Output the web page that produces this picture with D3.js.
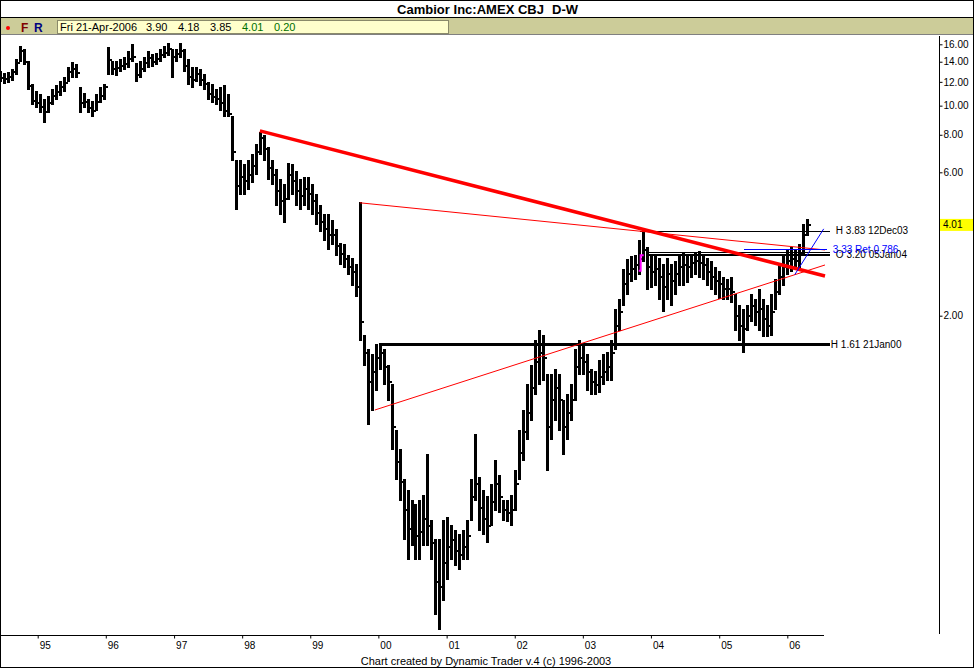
<!DOCTYPE html>
<html><head><meta charset="utf-8">
<script src="https://cdn.jsdelivr.net/npm/d3@7"></script>
<style>
html,body{margin:0;padding:0;background:#fff;overflow:hidden}
svg{display:block}
text{font-family:"Liberation Sans",Arial,sans-serif}
</style>
</head><body>
<svg id="c" width="974" height="668"></svg>
<script>
// ---------------- DATA ----------------
const titleText = "Cambior Inc:AMEX CBJ";
const periodText = "D-W";
const infoDate = "Fri 21-Apr-2006";
const infoValues = ["3.90", "4.18", "3.85", "4.01", "0.20"];
const footerText = "Chart created by Dynamic Trader v.4  (c) 1996-2003";

// price bars (one bar about every 3 weeks)
const startDate = "1994-06-13";
const barDays = 21.44;
const highs = [
12.95,12.75,12.85,13.15,14.19,15.68,15.32,13.98,11.72,11.11,
10.86,10.45,10.69,11.28,11.63,11.99,12.37,13.35,13.87,13.66,
11.46,10.94,10.45,10.29,10.86,11.46,11.72,15.56,13.98,13.98,
14.19,14.41,15.09,15.92,13.76,13.98,14.41,15.09,14.75,14.86,
15.32,15.68,16.04,15.32,15.32,16.16,15.32,14.19,13.35,13.35,
13.15,12.65,11.90,11.72,11.28,11.46,11.63,10.86,9.17,6.59,
6.59,6.35,6.59,6.86,7.40,8.17,7.98,7.23,6.59,6.11,
5.66,5.45,6.44,6.35,6.02,5.66,5.75,5.75,5.45,5.05,
4.67,4.33,4.33,4.16,3.86,3.49,3.44,3.18,3.11,2.95,
4.75,1.72,1.54,1.48,1.60,1.62,1.54,1.37,1.18,0.833,
0.715,0.568,0.526,0.487,0.469,0.487,0.506,0.688,0.418,0.359,
0.359,0.418,0.425,0.402,0.387,0.373,0.387,0.418,0.568,0.802,
0.581,0.526,0.500,0.547,0.662,0.590,0.487,0.487,0.506,0.613,
0.833,0.971,1.18,1.37,1.66,1.79,1.72,1.27,1.27,1.32,
1.27,1.048,1.09,1.18,1.54,1.66,1.60,1.48,1.32,1.30,
1.424,1.48,1.51,1.66,2.09,2.26,2.84,3.07,3.14,3.18,
3.57,3.86,3.36,3.18,3.18,3.11,2.95,3.11,2.95,3.02,
3.18,3.23,3.18,3.18,3.23,3.26,3.18,3.11,3.02,2.89,
2.80,2.67,2.63,2.67,2.35,2.17,2.09,2.17,2.35,2.26,
2.44,2.26,2.17,2.35,2.63,2.95,3.18,3.31,3.36,3.31,
3.44,4.01,4.18];
const lows = [
11.99,11.81,11.90,12.17,12.65,13.98,13.66,11.28,10.06,9.83,
9.52,8.82,9.52,10.06,10.45,10.78,11.11,11.99,12.37,12.37,
9.52,9.83,9.52,9.17,9.67,10.21,10.45,12.65,12.65,12.56,
12.95,13.15,13.35,13.98,11.99,12.37,12.95,13.35,13.45,13.66,
13.98,14.41,14.63,12.37,13.98,14.41,12.95,11.72,11.46,11.99,
11.63,11.28,10.45,10.21,10.06,9.67,9.17,9.17,6.59,4.50,
5.05,5.05,5.24,5.57,5.88,6.86,6.59,5.66,5.45,4.67,
4.33,4.10,4.86,5.05,4.67,4.50,4.67,4.50,4.33,4.01,
3.80,3.57,3.31,3.44,3.18,2.95,2.89,2.74,2.53,2.31,
1.66,1.37,0.866,0.971,1.13,1.32,1.18,1.048,0.715,0.568,
0.487,0.359,0.308,0.345,0.308,0.308,0.345,0.345,0.308,0.202,
0.180,0.226,0.264,0.308,0.296,0.285,0.308,0.308,0.418,0.487,
0.387,0.373,0.351,0.402,0.451,0.444,0.418,0.412,0.402,0.451,
0.568,0.662,0.772,0.899,1.09,1.18,1.22,0.613,0.772,0.899,
0.833,0.688,0.772,0.899,1.048,1.27,1.27,1.13,1.09,1.09,
1.11,1.18,1.22,1.22,1.54,1.79,2.17,2.35,2.59,2.63,
2.74,3.02,2.44,2.48,2.53,2.26,2.06,2.26,2.17,2.35,
2.53,2.53,2.57,2.67,2.74,2.67,2.63,2.53,2.44,2.35,
2.29,2.26,2.26,2.21,1.79,1.66,1.51,1.79,1.91,1.86,
1.79,1.70,1.70,1.72,2.09,2.35,2.53,2.74,2.80,2.84,
2.89,3.18,3.71];
const closes = [
12.4,12.3,12.5,12.9,13.9,15.2,14.0,11.6,10.4,10.2,
9.9,9.5,10.2,10.8,11.1,11.5,11.9,12.9,13.2,12.8,
10.2,10.3,9.8,9.6,10.3,10.8,11.5,14.2,13.2,13.3,
13.5,13.8,14.3,14.5,12.6,13.2,13.9,14.4,14.0,14.3,
14.7,15.0,15.4,14.5,14.8,15.2,13.6,12.5,12.2,12.7,
12.2,11.8,10.9,10.7,10.5,10.2,9.6,9.4,7.0,5.4,
5.8,5.6,5.9,6.3,7.0,7.8,7.2,6.2,5.9,5.2,
4.8,4.9,5.9,5.6,5.2,5.0,5.3,5.1,4.8,4.4,
4.1,3.9,3.7,3.7,3.4,3.2,3.1,2.9,2.8,2.5,
1.9,1.5,1.2,1.3,1.45,1.5,1.35,1.2,0.85,0.65,
0.56,0.45,0.39,0.40,0.37,0.38,0.42,0.40,0.35,0.26,
0.25,0.30,0.34,0.36,0.33,0.32,0.34,0.37,0.50,0.55,
0.46,0.42,0.40,0.48,0.55,0.50,0.45,0.44,0.45,0.55,
0.70,0.82,0.95,1.15,1.40,1.50,1.45,0.85,1.05,1.15,
1.05,0.85,0.95,1.05,1.35,1.45,1.40,1.30,1.20,1.18,
1.25,1.30,1.35,1.50,1.85,2.05,2.55,2.75,2.85,2.95,
3.10,3.30,2.90,2.80,2.85,2.70,2.50,2.75,2.60,2.75,
2.90,2.95,2.90,3.00,3.05,3.00,2.95,2.80,2.70,2.60,
2.55,2.45,2.45,2.40,2.00,1.85,1.80,2.00,2.15,2.05,
2.10,1.95,1.85,2.05,2.40,2.70,2.90,3.05,3.10,3.05,
3.20,3.70,4.01];

const yTickValues = [2, 6, 8, 10, 12, 14, 16];
const yearTicks = [1995,1996,1997,1998,1999,2000,2001,2002,2003,2004,2005,2006];
const lastPrice = 4.01;

// drawn trend lines (red)
const trendFrom  = ["1998-04-06", "1999-09-24", "1999-12-13"];
const trendTo    = ["2006-07-22", "2006-07-22", "2006-07-22"];
const trendP1    = [8.24, 4.75, 0.971];
const trendP2    = [2.71, 3.31, 2.95];
const trendWidth = [3.5, 1, 1];

// horizontal levels (black)
const levelPrice = [3.83, 3.26, 3.20, 1.61];
const levelFrom  = ["2003-11-05", "2003-12-09", "2003-12-09", "2000-01-10"];
const levelTo    = "2006-08-17";
const levelWidth = [1, 1, 2, 3];
const levelLabel = ["H 3.83 12Dec03", "", "O 3.20 05Jan04", "H 1.61 21Jan00"];

// retracement (blue)
const retPrice = 3.33, retFrom = "2005-05-13", retTo = "2006-08-04", retLabel = "3.33 Ret 0.786";
const blueDiagDates = ["2006-02-10", "2006-07-15"];
const blueDiagPrices = [2.74, 3.89];

// magenta marker
const markDate = "2003-11-07", markPrices = [3.18, 2.82];

// ---------------- CHART ----------------
const svg = d3.select("#c");
const W = 974, H = 668;
const pd = s => new Date(s + "T00:00:00Z");

const x = d3.scaleUtc()
  .domain([Date.UTC(1995,0,1), Date.UTC(2006,0,1)])
  .range([37.7, 787.3]);
const y = d3.scaleLog().domain([2, 16]).range([315.7, 44.3]);

// frame / title
svg.append("rect").attr("x",0.5).attr("y",0.5).attr("width",W-1).attr("height",H-1)
  .attr("fill","#fff").attr("stroke","#000");
svg.append("text").attr("x",397).attr("y",14).attr("font-size",13).attr("font-weight","bold")
  .attr("textLength",147).attr("lengthAdjust","spacing").text(titleText);
svg.append("text").attr("x",552).attr("y",14).attr("font-size",13).attr("font-weight","bold")
  .text(periodText);

// info bar
svg.append("line").attr("x1",0).attr("x2",W).attr("y1",17.5).attr("y2",17.5).attr("stroke","#000");
svg.append("rect").attr("x",1).attr("y",18).attr("width",W-2).attr("height",16).attr("fill","#cccc99");
svg.append("line").attr("x1",1).attr("x2",W-1).attr("y1",34.5).attr("y2",34.5).attr("stroke","#808080");
svg.append("rect").attr("x",57.5).attr("y",20.5).attr("width",391).attr("height",13)
  .attr("fill","#ffffcc").attr("stroke","#8a8a6a").attr("stroke-width",1);
svg.append("circle").attr("cx",8).attr("cy",28).attr("r",2).attr("fill","#ff0000");
svg.append("text").attr("x",21).attr("y",32).attr("font-size",12).attr("font-weight","bold")
  .attr("fill","#800000").text("F");
svg.append("text").attr("x",34).attr("y",32).attr("font-size",12).attr("font-weight","bold")
  .attr("fill","#000080").text("R");
svg.append("text").attr("x",60).attr("y",31).attr("font-size",11).text(infoDate);
const infoX = [146, 178, 210, 242, 274];
infoValues.forEach((v,i) => {
  svg.append("text").attr("x",infoX[i]).attr("y",31).attr("font-size",11)
    .attr("fill", i >= 3 ? "#006f00" : "#000").text(v);
});

// clip for plot
svg.append("clipPath").attr("id","plot").append("rect")
  .attr("x",1).attr("y",36).attr("width",937).attr("height",598);
const plot = svg.append("g").attr("clip-path","url(#plot)");

// bars
const t0 = pd(startDate).getTime();
const bars = highs.map((h,i) => ({
  date: new Date(t0 + i * barDays * 86400000),
  high: h, low: lows[i], close: closes[i]
}));
const gb = plot.append("g").attr("stroke","#000").attr("shape-rendering","crispEdges");
gb.selectAll("line.hl").data(bars).join("line").attr("class","hl")
  .attr("x1",d=>x(d.date)).attr("x2",d=>x(d.date))
  .attr("y1",d=>y(d.high)-0.5).attr("y2",d=>y(d.low)+0.5)
  .attr("stroke-width",3);
gb.selectAll("line.cl").data(bars).join("line").attr("class","cl")
  .attr("x1",d=>x(d.date)).attr("x2",d=>x(d.date)+3.5)
  .attr("y1",d=>y(d.close)).attr("y2",d=>y(d.close))
  .attr("stroke-width",2);

// levels
levelPrice.forEach((p,i) => {
  plot.append("line").attr("x1",x(pd(levelFrom[i]))).attr("x2",x(pd(levelTo)))
    .attr("y1",Math.round(y(p))+0.5).attr("y2",Math.round(y(p))+0.5)
    .attr("stroke","#000").attr("stroke-width",levelWidth[i])
    .attr("shape-rendering","crispEdges");
});

// trend lines
trendP1.forEach((p,i) => {
  plot.append("line")
    .attr("x1",x(pd(trendFrom[i]))).attr("y1",y(p))
    .attr("x2",x(pd(trendTo[i]))).attr("y2",y(trendP2[i]))
    .attr("stroke","#ff0000").attr("stroke-width",trendWidth[i]);
});

// blue retracement
plot.append("line").attr("x1",x(pd(retFrom))).attr("x2",x(pd(retTo)))
  .attr("y1",Math.round(y(retPrice))+0.5).attr("y2",Math.round(y(retPrice))+0.5)
  .attr("stroke","#0000ff").attr("stroke-width",1).attr("shape-rendering","crispEdges");
plot.append("line")
  .attr("x1",x(pd(blueDiagDates[0]))).attr("y1",y(blueDiagPrices[0]))
  .attr("x2",x(pd(blueDiagDates[1]))).attr("y2",y(blueDiagPrices[1]))
  .attr("stroke","#0000ff").attr("stroke-width",1);

// magenta marker
const mx = x(pd(markDate));
plot.append("path")
  .attr("d",`M${mx+3},${y(markPrices[0])}H${mx}V${y(markPrices[1])}H${mx-2}`)
  .attr("fill","none").attr("stroke","#ff00ff").attr("stroke-width",2);

// level labels
const lx = x(pd(levelTo));
levelLabel.forEach((t,i) => {
  if (!t) return;
  svg.append("text").attr("x", lx + (i===3 ? 1 : 6)).attr("y", y(levelPrice[i]))
    .attr("dy","0.35em").attr("font-size",10).text(t);
});
svg.append("text").attr("x", lx + 3).attr("y", y(retPrice)).attr("dy","0.35em")
  .attr("font-size",10).attr("fill","#0000ff").text(retLabel);

// bottom axis
svg.append("line").attr("x1",0).attr("x2",824).attr("y1",635.5).attr("y2",635.5).attr("stroke","#000");
const xAxis = d3.axisBottom(x)
  .tickValues(yearTicks.map(yr => new Date(Date.UTC(yr,0,1))))
  .tickFormat(d3.utcFormat("%y")).tickSize(3).tickPadding(3);
const gx = svg.append("g").attr("transform","translate(0,635.5)").call(xAxis);
gx.select(".domain").remove();
gx.selectAll("text").attr("text-anchor","start").attr("dx",1.5)
  .attr("font-family","Liberation Sans, Arial, sans-serif").attr("font-size",10).attr("fill","#000");
gx.selectAll("line").attr("stroke","#000");

// right axis
svg.append("line").attr("x1",939.5).attr("x2",939.5).attr("y1",36).attr("y2",634).attr("stroke","#000");
const yAxis = d3.axisRight(y).tickValues(yTickValues).tickFormat(d3.format(".2f"))
  .tickSize(3).tickPadding(1);
const gy = svg.append("g").attr("transform","translate(939.5,0)").call(yAxis);
gy.select(".domain").remove();
gy.selectAll("text").attr("font-family","Liberation Sans, Arial, sans-serif")
  .attr("font-size",10).attr("fill","#000");
gy.selectAll("line").attr("stroke","#000");

// last price box
svg.append("rect").attr("x",940).attr("y",y(lastPrice)-6).attr("width",33).attr("height",12)
  .attr("fill","#ffff00");
svg.append("text").attr("x",943).attr("y",y(lastPrice)).attr("dy","0.35em")
  .attr("font-size",10).text(lastPrice.toFixed(2));

// footer
svg.append("text").attr("x",486).attr("y",665).attr("text-anchor","middle")
  .attr("font-size",11).text(footerText);
</script>
</body></html>
